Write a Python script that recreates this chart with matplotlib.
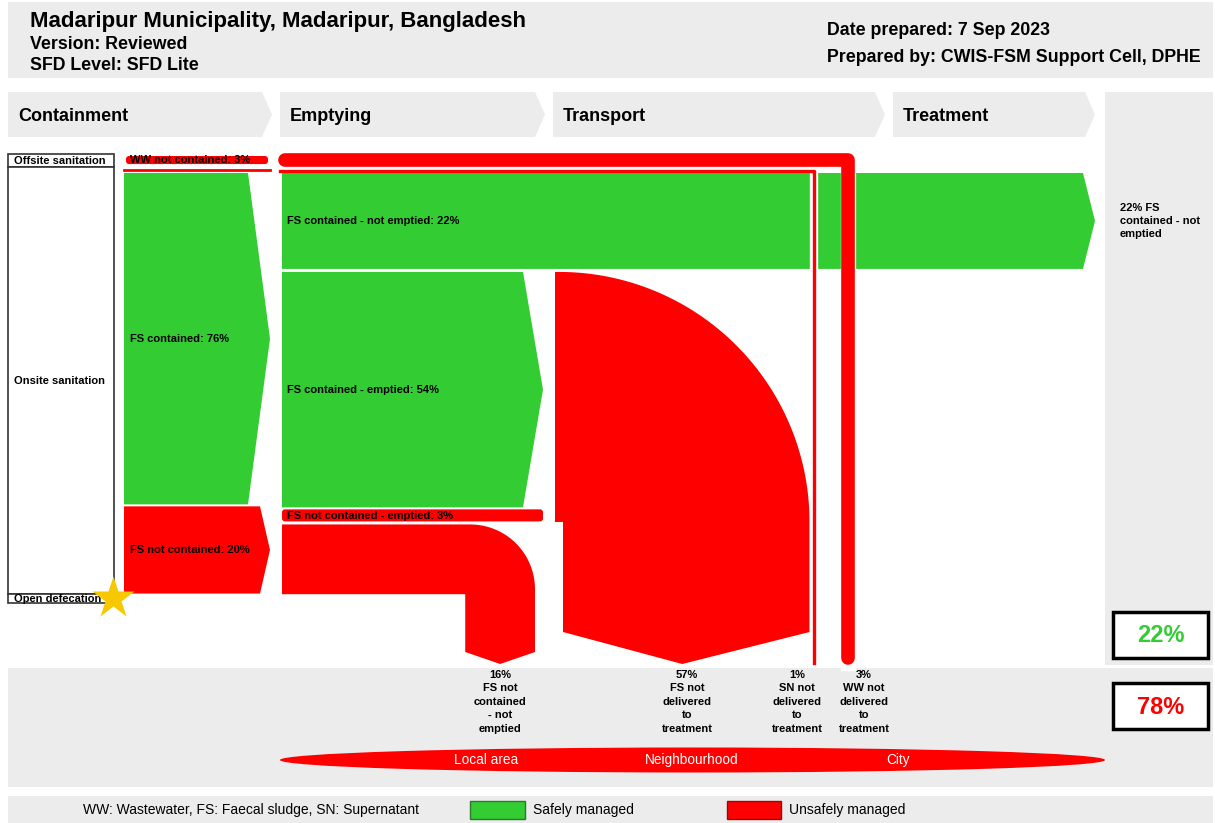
import numpy as np
import matplotlib
matplotlib.use('Agg')
import matplotlib.pyplot as plt
from matplotlib.patches import Polygon, Rectangle, FancyBboxPatch, Ellipse

plt.rcParams['font.family'] = ['Liberation Sans', 'DejaVu Sans']

# ---- data ----
title = 'Madaripur Municipality, Madaripur, Bangladesh'
version = 'Version: Reviewed'
sfd_level = 'SFD Level: SFD Lite'
date_prepared = 'Date prepared: 7 Sep 2023'
prepared_by = 'Prepared by: CWIS-FSM Support Cell, DPHE'

stages = ['Containment', 'Emptying', 'Transport', 'Treatment']
sanitation_types = ['Offsite sanitation', 'Onsite sanitation', 'Open defecation']

containment_labels = ['WW not contained', 'FS contained', 'FS not contained']
containment_pct = [3, 76, 20]
emptying_labels = ['FS contained - not emptied', 'FS contained - emptied',
                   'FS not contained - emptied', 'FS not contained - not emptied']
emptying_pct = [22, 54, 3, 16]
transport_pct = 57
sn_pct = 1

outcome_pct = [16, 57, 1, 3]
outcome_labels = ['FS not\ncontained\n- not\nemptied', 'FS not\ndelivered\nto\ntreatment',
                  'SN not\ndelivered\nto\ntreatment', 'WW not\ndelivered\nto\ntreatment']
areas = ['Local area', 'Neighbourhood', 'City']
safe_pct = 22
unsafe_pct = 78

GREEN = '#33cc33'
RED = '#ff0000'
GREY = '#ececec'
S = 4.36  # pixels per percent
FS = 8.0  # flow label size

fig = plt.figure(figsize=(12.15, 8.23), dpi=100)
ax = fig.add_axes([0, 0, 1, 1])
ax.set_xlim(0, 1215)
ax.set_ylim(823, 0)
ax.axis('off')


def poly(pts, color, z=2):
    ax.add_patch(Polygon(pts, closed=True, facecolor=color, edgecolor='none', zorder=z))


def label(x, y, s, size=FS, color='black', **kw):
    ax.text(x, y, s, fontsize=size, fontweight='bold', color=color, va='center', zorder=10, **kw)


# header
ax.add_patch(Rectangle((8, 2), 1205, 76, facecolor=GREY, edgecolor='none', zorder=0))
ax.text(30, 21, title, fontsize=16, fontweight='bold', va='center')
ax.text(30, 44, version, fontsize=12.8, fontweight='bold', va='center')
ax.text(30, 65, sfd_level, fontsize=12.8, fontweight='bold', va='center')
ax.text(827, 30, date_prepared, fontsize=12.8, fontweight='bold', va='center')
ax.text(827, 57, prepared_by, fontsize=12.8, fontweight='bold', va='center')

# stage chevrons
stage_x = [(8, 262), (280, 535), (553, 875), (893, 1085)]
for name, (x0, x1) in zip(stages, stage_x):
    poly([(x0, 92), (x1, 92), (x1 + 10, 114.5), (x1, 137), (x0, 137)], GREY, z=0)
    ax.text(x0 + 10, 116, name, fontsize=13, fontweight='bold', va='center')

# right column and bottom band
ax.add_patch(Rectangle((1105, 92), 108, 573, facecolor=GREY, edgecolor='none', zorder=0))
ax.add_patch(Rectangle((8, 668), 1205, 119, facecolor=GREY, edgecolor='none', zorder=0))
ax.add_patch(Rectangle((8, 796), 1205, 27, facecolor=GREY, edgecolor='none', zorder=0))

# sanitation boxes on the left
box_y = [(154, 167), (167, 594), (594, 603)]
for name, (y0, y1) in zip(sanitation_types, box_y):
    ax.add_patch(Rectangle((8, y0), 106, y1 - y0, facecolor='white', edgecolor='#333333',
                           lw=1.2, zorder=3))
ax.text(60, 161, sanitation_types[0], fontsize=FS, fontweight='bold', ha='center', va='center', zorder=4)
ax.text(14, 381, sanitation_types[1], fontsize=FS, fontweight='bold', va='center', zorder=4)
ax.text(14, 598.5, sanitation_types[2], fontsize=FS, fontweight='bold', va='center', zorder=4)
ax.plot(113, 598, marker='*', markersize=32, color='#f7c800', markeredgecolor='none', zorder=6)

# ---- containment ----
ww_h = containment_pct[0] * S
ax.add_patch(FancyBboxPatch((126, 156), 142, ww_h - 5, boxstyle='round,pad=0,rounding_size=3',
                            facecolor=RED, edgecolor='none', zorder=2))
ax.plot([124, 270], [169.5, 169.5], color=RED, lw=2, zorder=2)
label(130, 160, f'{containment_labels[0]}: {containment_pct[0]}%')

g0 = 173
g1 = g0 + containment_pct[1] * S
poly([(124, g0), (248, g0), (270, (g0 + g1) / 2), (248, g1), (124, g1)], GREEN)
label(130, (g0 + g1) / 2, f'{containment_labels[1]}: {containment_pct[1]}%')

r0 = g1 + 2
r1 = r0 + containment_pct[2] * S
poly([(124, r0), (260, r0), (270, (r0 + r1) / 2), (260, r1), (124, r1)], RED)
label(130, (r0 + r1) / 2, f'{containment_labels[2]}: {containment_pct[2]}%')

# ---- emptying ----
e0 = 173
e1 = e0 + emptying_pct[0] * S
poly([(282, e0), (1083, e0), (1095, (e0 + e1) / 2), (1083, e1), (282, e1)], GREEN)
label(287, (e0 + e1) / 2, f'{emptying_labels[0]}: {emptying_pct[0]}%')

f0 = e1 + 3
f1 = f0 + emptying_pct[1] * S
poly([(282, f0), (523, f0), (543, (f0 + f1) / 2), (523, f1), (282, f1)], GREEN)
label(287, (f0 + f1) / 2, f'{emptying_labels[1]}: {emptying_pct[1]}%')

h0 = f1 + 2
ax.add_patch(FancyBboxPatch((282, h0), 261, emptying_pct[2] * S - 1,
                            boxstyle='round,pad=0,rounding_size=3',
                            facecolor=RED, edgecolor='none', zorder=2))
label(287, h0 + emptying_pct[2] * S / 2, f'{emptying_labels[2]}: {emptying_pct[2]}%')

k0 = h0 + emptying_pct[2] * S + 2
k1 = k0 + emptying_pct[3] * S
kx1 = 535
kx0 = kx1 - emptying_pct[3] * S
rad = kx1 - kx0 - 5
th = np.linspace(np.pi / 2, 0, 30)
arc = [(kx1 - rad + rad * np.cos(t), k0 + rad - rad * np.sin(t)) for t in th]
pts = [(282, k0)] + arc + [(kx1, 652), ((kx0 + kx1) / 2, 664), (kx0, 652), (kx0, k1), (282, k1)]
poly(pts, RED)

# ---- transport ----
t_x0 = 559
t_w = transport_pct * S + 2
t_x1 = t_x0 + t_w
t_y0 = f0
t_cy = 522
th = np.linspace(np.pi / 2, 0, 60)
arc = [(t_x0 + t_w * np.cos(t), t_cy - (t_cy - t_y0) * np.sin(t)) for t in th]
pts = [(t_x0 - 4, t_y0)] + arc + [(t_x1, 632), ((t_x0 + t_x1) / 2 - 2, 664), (t_x0 + 4, 632),
                                  (t_x0 + 4, t_cy), (t_x0 - 4, t_cy)]
poly(pts, RED)

# ---- pipes: supernatant and wastewater ----
sn_x = 813.5
ww_x = 847.5
ww_w = outcome_pct[3] * S * 0.75
ax.plot([sn_x, sn_x], [e0, 663], color='white', lw=6, zorder=3)
ax.plot([ww_x, ww_x], [e0, 663], color='white', lw=11, zorder=3)
ax.plot([280, sn_x, sn_x], [170.5, 170.5, 663], color=RED, lw=sn_pct * S * 0.55,
        solid_joinstyle='round', zorder=4)
ax.plot([285, ww_x, ww_x], [159.5, 159.5, 658], color=RED, lw=ww_w,
        solid_joinstyle='round', solid_capstyle='round', zorder=4)

# right hand summary text
ax.text(1120, 221, f'{safe_pct}% FS\ncontained - not\nemptied', fontsize=FS, fontweight='bold',
        va='center', linespacing=1.38)

# outcome labels
outcome_x = [500, 687, 797, 864]
for x, p, s in zip(outcome_x, outcome_pct, outcome_labels):
    ax.text(x, 670, f'{p}%\n{s}', fontsize=FS, fontweight='bold', ha='center', va='top',
            linespacing=1.43)

# area ellipse
ax.add_patch(Ellipse((692.5, 760), 825, 25, facecolor=RED, edgecolor='none', zorder=2))
for x, s in zip([486, 692, 898], areas):
    ax.text(x, 760, s, fontsize=9.8, color='white', ha='center', va='center', zorder=3)

# summary boxes
for y, v, c in [(612, safe_pct, GREEN), (683, unsafe_pct, RED)]:
    ax.add_patch(Rectangle((1113, y), 95, 46, facecolor='white', edgecolor='black', lw=2.5, zorder=3))
    ax.text(1160.5, y + 24, f'{v}%', fontsize=17, fontweight='bold', color=c,
            ha='center', va='center', zorder=4)

# legend
ax.text(83, 810, 'WW: Wastewater, FS: Faecal sludge, SN: Supernatant', fontsize=10, va='center')
ax.add_patch(Rectangle((470, 801), 55, 18, facecolor=GREEN, edgecolor='#2a7a2a', lw=1, zorder=3))
ax.text(533, 810, 'Safely managed', fontsize=10, va='center')
ax.add_patch(Rectangle((727, 801), 54, 18, facecolor=RED, edgecolor='#8a1010', lw=1, zorder=3))
ax.text(789, 810, 'Unsafely managed', fontsize=10, va='center')

fig.savefig('out.png', dpi=100)
